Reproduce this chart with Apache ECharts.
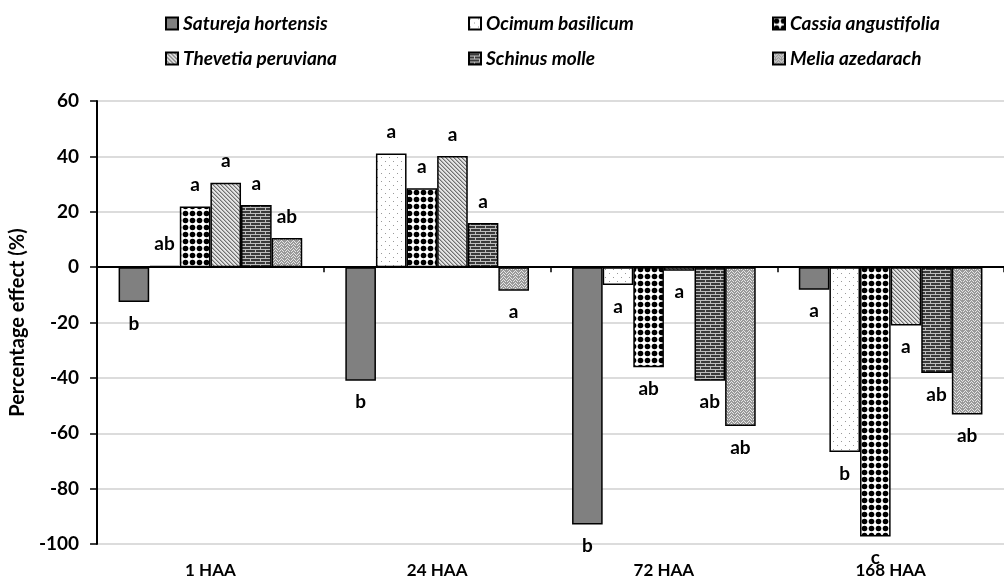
<!DOCTYPE html>
<html>
<head>
<meta charset="utf-8">
<script src="https://cdn.jsdelivr.net/npm/echarts@6/dist/echarts.min.js"></script>
<style>
  html, body { margin: 0; padding: 0; background: #fff; }
  #chart { width: 1004px; height: 579px; }
</style>
</head>
<body>
<div id="chart"></div>
<script>
// data
const categories = ['1 HAA', '24 HAA', '72 HAA', '168 HAA'];
const species = ['Satureja hortensis', 'Ocimum basilicum', 'Cassia angustifolia',
                 'Thevetia peruviana', 'Schinus molle', 'Melia azedarach'];

const satureja = [-12.6, -41.0, -93.0, -8.2];
const ocimum   = [0.5, 41.0, -6.5, -66.8];
const cassia   = [21.9, 28.5, -36.2, -97.3];
const thevetia = [30.5, 40.1, -1.3, -21.1];
const schinus  = [22.4, 15.9, -41.0, -38.2];
const melia    = [10.5, -8.5, -57.4, -53.2];

const lettersSatureja = ['b', 'b', 'b', 'a'];
const lettersOcimum   = ['ab', 'a', 'a', 'b'];
const lettersCassia   = ['a', 'a', 'ab', 'c'];
const lettersThevetia = ['a', 'a', 'a', 'a'];
const lettersSchinus  = ['a', 'a', 'ab', 'ab'];
const lettersMelia    = ['ab', 'a', 'ab', 'ab'];

const yTicks = { min: -100, max: 60, step: 20 };

// fill patterns
function tile(w, h, draw) {
  const c = document.createElement('canvas');
  c.width = w; c.height = h;
  draw(c.getContext('2d'));
  return { image: c, repeat: 'repeat' };
}

const fills = [
  '#808080',
  tile(8, 8, g => {
    g.fillStyle = '#fff'; g.fillRect(0, 0, 8, 8);
    g.fillStyle = '#999'; g.fillRect(1, 1, 1, 1); g.fillRect(5, 5, 1, 1);
  }),
  tile(7, 7, g => {
    g.fillStyle = '#fff'; g.fillRect(0, 0, 7, 7);
    g.fillStyle = '#000'; g.beginPath(); g.arc(3.5, 3.5, 2.8, 0, Math.PI * 2); g.fill();
  }),
  tile(4, 4, g => {
    g.fillStyle = '#e4e4e4'; g.fillRect(0, 0, 4, 4);
    g.fillStyle = '#707070';
    for (let i = 0; i < 4; i++) g.fillRect(i, i, 1, 1);
    g.fillStyle = '#b0b0b0';
    for (let i = 0; i < 4; i++) g.fillRect((i + 1) % 4, i, 1, 1);
  }),
  tile(10, 6, g => {
    g.fillStyle = '#3a3a3a'; g.fillRect(0, 0, 10, 6);
    g.fillStyle = '#bdbdbd';
    g.fillRect(0, 0, 10, 1); g.fillRect(0, 3, 10, 1);
    g.fillRect(0, 0, 1, 3); g.fillRect(5, 3, 1, 3);
  }),
  tile(6, 6, g => {
    g.fillStyle = '#9a9a9a'; g.fillRect(0, 0, 6, 6);
    g.fillStyle = '#e6e6e6';
    [[0, 1], [1, 2], [2, 3], [3, 2], [4, 1], [5, 0]].forEach(p => g.fillRect(p[0], p[1], 1, 1));
    [[0, 4], [1, 5], [3, 5], [4, 4], [5, 3]].forEach(p => g.fillRect(p[0], p[1], 1, 1));
  })
];

const values = [satureja, ocimum, cassia, thevetia, schinus, melia];
const letters = [lettersSatureja, lettersOcimum, lettersCassia, lettersThevetia, lettersSchinus, lettersMelia];

const font = 'Lato';
const legendCols = [165, 468, 772];
const legendRows = [14, 49];

const legends = species.map((name, i) => ({
  data: [name],
  left: legendCols[i % 3],
  top: legendRows[Math.floor(i / 3)],
  padding: 0,
  icon: 'rect',
  itemWidth: 12,
  itemHeight: 12,
  itemGap: 5,
  selectedMode: false,
  textStyle: { fontFamily: font, fontSize: 19, fontWeight: 'bold', fontStyle: 'italic', color: '#000' }
}));

const series = species.map((name, i) => ({
  name: name,
  type: 'bar',
  barGap: '0%',
  barCategoryGap: '19%',
  itemStyle: { color: fills[i], borderColor: '#000', borderWidth: 1.5 },
  data: values[i].map(v => ({
    value: v,
    label: { position: v >= 0 ? 'top' : 'bottom' }
  })),
  label: {
    show: true,
    distance: 12,
    fontFamily: font,
    fontSize: 19,
    fontWeight: 'bold',
    color: '#000',
    formatter: p => letters[i][p.dataIndex]
  }
}));

const chart = echarts.init(document.getElementById('chart'), null, { renderer: 'canvas' });
chart.setOption({
  animation: false,
  backgroundColor: '#fff',
  legend: legends,
  grid: { left: 95, right: -11, top: 101, bottom: 34, containLabel: false },
  xAxis: [
    {
      type: 'category',
      data: categories,
      axisLine: { onZero: true, lineStyle: { color: '#000', width: 2 } },
      axisTick: { show: true, length: 5, lineStyle: { color: '#000', width: 1.5 } },
      axisLabel: { show: false },
      splitLine: { show: false }
    },
    {
      type: 'category',
      data: categories,
      position: 'bottom',
      axisLine: { show: false, onZero: false },
      axisTick: { show: false },
      axisLabel: { margin: 18, fontFamily: font, fontSize: 17, fontWeight: 'bold', color: '#000' }
    }
  ],
  yAxis: {
    type: 'value',
    min: yTicks.min,
    max: yTicks.max,
    interval: yTicks.step,
    name: 'Percentage effect (%)',
    nameLocation: 'middle',
    nameGap: 68,
    nameTextStyle: { fontFamily: font, fontSize: 20, fontWeight: 'bold', color: '#000' },
    axisLine: { show: true, lineStyle: { color: '#000', width: 2 } },
    axisTick: { show: true, length: 7, lineStyle: { color: '#000', width: 1.5 } },
    axisLabel: { margin: 18, fontFamily: font, fontSize: 19, fontWeight: 'bold', color: '#000' },
    splitLine: { show: true, lineStyle: { color: '#d0d0d0', width: 1.5 } }
  },
  series: series
});
</script>
</body>
</html>
